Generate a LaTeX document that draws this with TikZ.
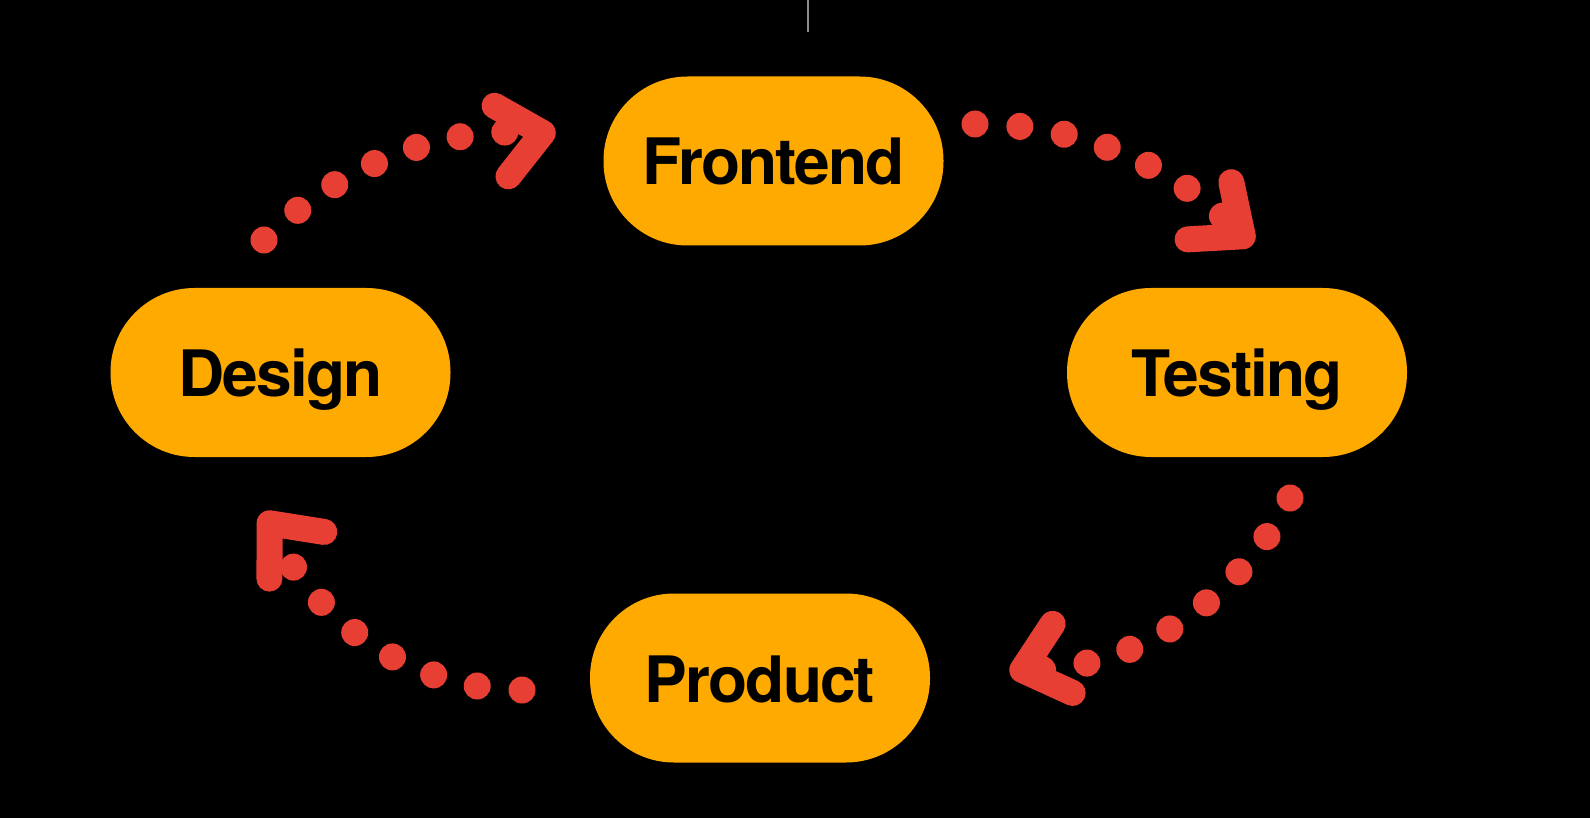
\documentclass[tikz,border=0pt]{standalone}
\usepackage{fontspec}
\newfontfamily\pillfont{TeX Gyre Heros}[LetterSpace=-3]
\usetikzlibrary{calc,decorations.markings}
\definecolor{pillorange}{RGB}{255,170,0}
\definecolor{dotred}{RGB}{231,63,52}
\definecolor{tickgray}{RGB}{140,140,140}
\begin{document}
\begin{tikzpicture}[x=1pt,y=-1pt,
  pill/.style={fill=pillorange, rounded corners=84pt, minimum width=340pt,
    minimum height=169pt, inner sep=0pt, text height=48pt, text depth=0pt,
    font=\pillfont\bfseries\fontsize{64}{64}\selectfont, text=black},
  dotline/.style={draw=dotred, line width=27pt, line cap=round,
    dash pattern=on 0pt off 45pt},
  chev/.style={postaction={decorate, decoration={markings,
    mark=at position 0.999 with {\draw[dotred, solid, line width=26pt,
      line cap=round, line join=round, rotate=#1]
      (-42pt,36pt) -- (0pt,0pt) -- (-42pt,-36pt);}}}}
]
\fill[black] (0,0) rectangle (1590,818);
\useasboundingbox (0,0) rectangle (1590,818);
\draw[tickgray, line width=2pt] (808,0) -- (808,32);

\node[pill] (design)   at (280.5,372.5) {Design};
\node[pill] (frontend) at (773.5,161)   {Frontend};
\node[pill] (testing)  at (1237,372.5)  {Testing};
\node[pill] (product)  at (760,678)     {Product};

\draw[dotline, chev=16] ($(design)+(-16.5,-132.5)$)
  .. controls +(73,-72) and +(-104,-9) .. ($(frontend)+(-230.5,-28)$);
\draw[dotline, chev=10] ($(frontend)+(201.5,-37)$)
  .. controls +(98,-1) and +(-67,-73) .. ($(testing)+(6,-136)$);
\draw[dotline, chev=17] ($(testing)+(53,125.5)$)
  .. controls +(-51,100) and +(116,2) .. ($(product)+(262,-8)$);
\draw[dotline, chev=17] ($(product)+(-238,12)$)
  .. controls +(-109,-1) and +(44,102) .. ($(design)+(-11,150.5)$);
\end{tikzpicture}
\end{document}
